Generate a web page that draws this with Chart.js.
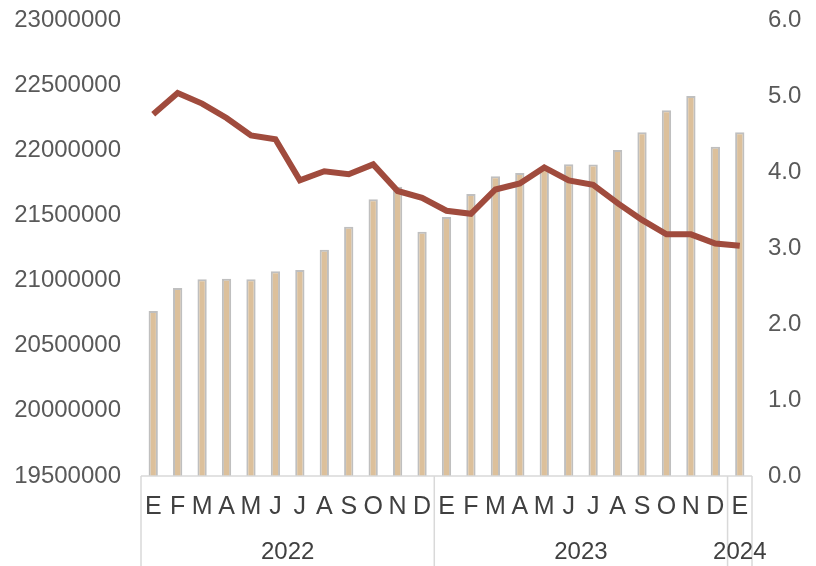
<!DOCTYPE html>
<html>
<head>
<meta charset="utf-8">
<script src="https://cdn.jsdelivr.net/npm/chart.js@4.4.1/dist/chart.umd.min.js"></script>
<style>
  html, body { margin: 0; padding: 0; background: #fff; }
  #wrap { width: 816px; height: 566px; }
</style>
</head>
<body>
<div id="wrap"><canvas id="chart" width="816" height="566"></canvas></div>
<script>
const months = ['E','F','M','A','M','J','J','A','S','O','N','D','E','F','M','A','M','J','J','A','S','O','N','D','E'];
const years = ['2022','2022','2022','2022','2022','2022','2022','2022','2022','2022','2022','2022',
               '2023','2023','2023','2023','2023','2023','2023','2023','2023','2023','2023','2023','2024'];
const barValues = [20766000, 20943000, 21010000, 21014000, 21010000, 21071000, 21081000, 21237000, 21413000, 21624000, 21720000, 21375000,
                   21488000, 21664000, 21800000, 21825000, 21870000, 21892000, 21890000, 22002000, 22138000, 22307000, 22416000, 22027000, 22138000];
const lineValues = [4.76, 5.04, 4.90, 4.71, 4.48, 4.43, 3.89, 4.01, 3.97, 4.10, 3.75, 3.66,
                    3.49, 3.45, 3.77, 3.85, 4.06, 3.89, 3.83, 3.59, 3.37, 3.18, 3.18, 3.06, 3.03];

const FONT = '"Liberation Sans", Arial, Helvetica, sans-serif';
const TEXT = '#595959';
const AXIS = '#d9d9d9';

// year group labels + separators below the month ticks
const yearGroupPlugin = {
    id: 'yearGroups',
    afterDraw: (chart) => {
        const { ctx, chartArea: { bottom }, scales: { x } } = chart;
        const h = chart.height;
        const edge = i => {
            if (i <= 0) return x.left;
            if (i >= years.length) return x.right;
            return (x.getPixelForValue(i - 1) + x.getPixelForValue(i)) / 2;
        };
        ctx.save();
        ctx.strokeStyle = AXIS; ctx.lineWidth = 1.5;
        ctx.beginPath();
        ctx.moveTo(x.left, bottom); ctx.lineTo(x.right, bottom);
        let start = 0;
        const groups = [];
        for (let i = 0; i <= years.length; i++) {
            if (i === years.length || years[i] !== years[start]) {
                groups.push({ label: years[start], a: edge(start), b: edge(i) });
                start = i;
            }
        }
        const xs = new Set();
        groups.forEach(g => { xs.add(g.a); xs.add(g.b); });
        xs.forEach(px => { ctx.moveTo(px, bottom); ctx.lineTo(px, h); });
        ctx.stroke();
        ctx.fillStyle = '#404040';
        ctx.font = '24px ' + FONT;
        ctx.textAlign = 'center'; ctx.textBaseline = 'middle';
        groups.forEach(g => ctx.fillText(g.label, (g.a + g.b) / 2, 552));
        ctx.restore();
    }
};

new Chart(document.getElementById('chart').getContext('2d'), {
    type: 'bar',
    data: {
        labels: months,
        datasets: [
            { type: 'line', data: lineValues, yAxisID: 'y1', borderColor: '#a04b3d', borderWidth: 6, pointRadius: 0, tension: 0, order: 0 },
            { data: barValues, yAxisID: 'y', backgroundColor: '#dcc09b', borderColor: '#bfbfbf', borderWidth: 2, barPercentage: 0.38, categoryPercentage: 1, order: 1 }
        ]
    },
    plugins: [yearGroupPlugin],
    options: {
        responsive: false, animation: false,
        layout: { padding: { top: 20, bottom: 0, left: 0, right: 0 } },
        plugins: { legend: { display: false }, tooltip: { enabled: false } },
        scales: {
            x: {
                grid: { display: false, drawTicks: false }, border: { display: false },
                ticks: { color: '#404040', font: { family: FONT, size: 25 }, padding: 16, autoSkip: false, maxRotation: 0 },
                afterFit: s => { s.height = 90; s.paddingLeft = 0; s.paddingRight = 0; }
            },
            y: {
                position: 'left', min: 19500000, max: 23000000,
                grid: { display: false, drawTicks: false }, border: { display: false },
                ticks: { stepSize: 500000, color: TEXT, font: { family: FONT, size: 24 }, padding: 20, callback: v => String(v) },
                afterFit: s => { s.width = 141; s.paddingTop = 0; s.paddingBottom = 0; }
            },
            y1: {
                position: 'right', min: 0, max: 6,
                grid: { display: false, drawTicks: false }, border: { display: false },
                ticks: { stepSize: 1, color: TEXT, font: { family: FONT, size: 24 }, padding: 16, callback: v => v.toFixed(1) },
                afterFit: s => { s.width = 64; s.paddingTop = 0; s.paddingBottom = 0; }
            }
        }
    }
});
</script>
</body>
</html>
